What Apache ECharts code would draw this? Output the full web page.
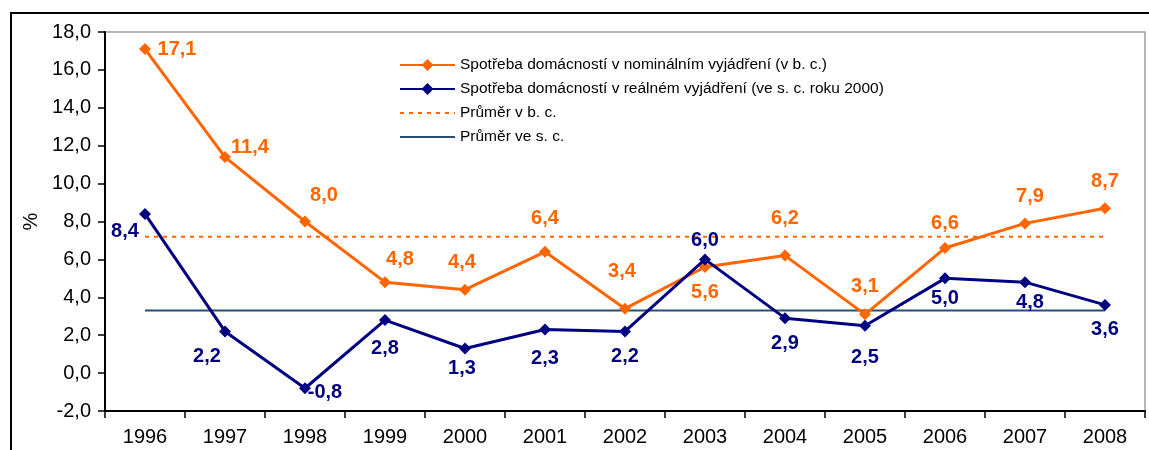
<!DOCTYPE html>
<html><head><meta charset="utf-8">
<script src="https://cdn.jsdelivr.net/npm/echarts@6/dist/echarts.min.js"></script>
<style>html,body{margin:0;padding:0;background:#fff}#c{width:1149px;height:450px}</style>
</head><body><div id="c"></div>
<script>
const years = ['1996','1997','1998','1999','2000','2001','2002','2003','2004','2005','2006','2007','2008'];
const nominal = [17.1, 11.4, 8.0, 4.8, 4.4, 6.4, 3.4, 5.6, 6.2, 3.1, 6.6, 7.9, 8.7];
const real = [8.4, 2.2, -0.8, 2.8, 1.3, 2.3, 2.2, 6.0, 2.9, 2.5, 5.0, 4.8, 3.6];
const avgNominal = [7.2, 7.2, 7.2, 7.2, 7.2, 7.2, 7.2, 7.2, 7.2, 7.2, 7.2, 7.2, 7.2];
const avgReal = [3.3, 3.3, 3.3, 3.3, 3.3, 3.3, 3.3, 3.3, 3.3, 3.3, 3.3, 3.3, 3.3];
const yTicks = [-2, 0, 2, 4, 6, 8, 10, 12, 14, 16, 18];
const names = ['Spotřeba domácností v nominálním vyjádření (v b. c.)',
  'Spotřeba domácností v reálném vyjádření (ve s. c. roku 2000)',
  'Průměr v b. c.', 'Průměr ve s. c.'];

// label placement (styling only)
const nomLabelOffsets = [[32,0],[25,-10],[19,-26],[15,-23],[-3,-27],[0,-33],[-3,-37],[0,26],[0,-37],[0,-28],[0,-25],[5,-27],[0,-27]];
const realLabelOffsets = [[-20,18],[-18,25],[20,4],[0,28],[-3,20],[0,29],[0,25],[0,-19],[0,25],[0,32],[0,20],[5,20],[0,25]];

const fmt = v => v.toFixed(1).replace('.', ',');
const FF = 'Liberation Sans, Arial, sans-serif';
const lblFont = {fontFamily:FF, fontSize:20, fontWeight:'bold'};

function mk(vals, offs, color){
  return vals.map((v,i)=>({value:v, label:{show:true, position:'inside', offset:offs[i], color:color, formatter:()=>fmt(v), ...lblFont}}));
}

const chart = echarts.init(document.getElementById('c'));
chart.setOption({
  animation:false,
  textStyle:{fontFamily:FF},
  graphic:[{type:'rect', shape:{x:11, y:13, width:1300, height:600}, style:{fill:'none', stroke:'#000', lineWidth:2}, z:-1}],
  grid:{left:105, right:4, top:32, bottom:39, show:true, borderColor:'#a0a0a0', borderWidth:1.5},
  legend:{orient:'vertical', left:394, top:52, itemWidth:55, itemHeight:15, itemGap:8, itemTextGap:4,
    textStyle:{fontSize:15.5, color:'#000', fontFamily:FF},
    data:[{name:names[0]},{name:names[1]},{name:names[2], itemStyle:{opacity:0}},{name:names[3], itemStyle:{opacity:0}}]},
  xAxis:{type:'category', data:years, boundaryGap:true,
    axisLine:{onZero:false, lineStyle:{color:'#000', width:2}},
    axisTick:{show:true, length:7, lineStyle:{color:'#000', width:1.5}},
    axisLabel:{color:'#000', fontSize:20, margin:16}},
  yAxis:{type:'value', min:yTicks[0], max:yTicks[yTicks.length-1], interval:2,
    name:'%', nameLocation:'middle', nameGap:64, nameRotate:90, nameTextStyle:{fontSize:20, color:'#000'},
    axisLine:{show:true, lineStyle:{color:'#000', width:2}},
    axisTick:{show:true, length:7, lineStyle:{color:'#000', width:1.5}},
    splitLine:{show:false},
    axisLabel:{color:'#000', fontSize:20, margin:14, formatter:v=>fmt(v)}},
  series:[
    {name:names[0], type:'line', data:mk(nominal, nomLabelOffsets, '#FF6600'), symbol:'diamond', symbolSize:12,
      itemStyle:{color:'#FF6600'}, lineStyle:{color:'#FF6600', width:3}, z:5},
    {name:names[1], type:'line', data:mk(real, realLabelOffsets, '#000080'), symbol:'diamond', symbolSize:12,
      itemStyle:{color:'#000080'}, lineStyle:{color:'#000080', width:3}, z:6},
    {name:names[2], type:'line', data:avgNominal, symbol:'none', lineStyle:{color:'#FF6600', width:2, type:[4,5]}, itemStyle:{color:'#FF6600'}, z:3},
    {name:names[3], type:'line', data:avgReal, symbol:'none', lineStyle:{color:'#264F78', width:2}, itemStyle:{color:'#264F78'}, z:3}
  ]
});
</script></body></html>
